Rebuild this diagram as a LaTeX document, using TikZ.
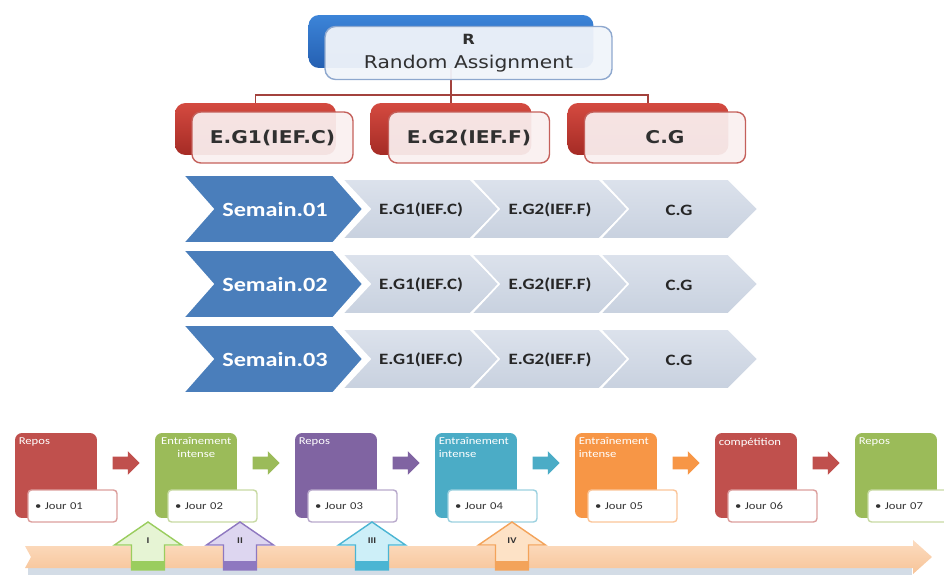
\documentclass[tikz,border=0pt]{standalone}
\usepackage{fontspec}
\setmainfont{Carlito}[FakeStretch=1.2]
\newfontfamily\verd{DejaVu Sans}[FakeStretch=1.15]
\usetikzlibrary{positioning,calc,shapes.arrows}

\definecolor{blueTop}{HTML}{3C84D8}
\definecolor{blueBot}{HTML}{2560B2}
\definecolor{rpale}{HTML}{F0F4FA}
\definecolor{rline}{HTML}{8EA8CE}
\definecolor{redTop}{HTML}{D44A40}
\definecolor{redBot}{HTML}{A52B25}
\definecolor{gpale}{HTML}{FAF0F0}
\definecolor{gline}{HTML}{C4605B}
\definecolor{treecol}{HTML}{A3423D}
\definecolor{treetext}{HTML}{303030}
\definecolor{semblue}{HTML}{4A7EBB}
\definecolor{greyTop}{HTML}{DCE2EC}
\definecolor{greyBot}{HTML}{C8D1DF}
\definecolor{offred}{HTML}{C0504D}
\definecolor{offgreen}{HTML}{9BBB59}
\definecolor{offpurple}{HTML}{8064A2}
\definecolor{offteal}{HTML}{4BACC6}
\definecolor{offorange}{HTML}{F79646}
\definecolor{barTop}{HTML}{FCDCC0}
\definecolor{barBot}{HTML}{F7C498}
\definecolor{barshadow}{HTML}{D3DCE6}
\definecolor{upgF}{HTML}{E6F4D4}
\definecolor{upgD}{HTML}{9ACD5E}
\definecolor{uppF}{HTML}{DDD6F0}
\definecolor{uppD}{HTML}{8E78C0}
\definecolor{upcF}{HTML}{CDEFF8}
\definecolor{upcD}{HTML}{4BB5D3}
\definecolor{upoF}{HTML}{FDE2C6}
\definecolor{upoD}{HTML}{F3A35A}

\tikzset{
  rback/.style={rounded corners=6pt, top color=blueTop, bottom color=blueBot,
    minimum width=5.7cm, minimum height=1.06cm, inner sep=0pt},
  rfront/.style={rounded corners=6pt, draw=rline, line width=0.8pt, fill=rpale,
    fill opacity=0.95, text opacity=1, minimum width=5.74cm, minimum height=1.06cm,
    align=center, font=\verd\fontsize{10}{11.5}\selectfont, text=treetext},
  gback/.style={rounded corners=6pt, top color=redTop, bottom color=redBot,
    minimum width=3.22cm, minimum height=1.04cm, inner sep=0pt},
  gfront/.style={rounded corners=5pt, draw=gline, line width=0.8pt, fill=gpale,
    fill opacity=0.93, text opacity=1, minimum width=3.22cm, minimum height=1.02cm,
    font=\verd\bfseries\fontsize{10}{12}\selectfont, text=treetext},
  treeline/.style={draw=treecol, line width=0.9pt},
  chevblue/.style={fill=semblue, draw=white, line width=1pt},
  chevgrey/.style={top color=greyTop, bottom color=greyBot, draw=white, line width=1pt},
  semtext/.style={text=white, font=\bfseries\fontsize{11.5}{13}\selectfont},
  grptext/.style={text=black!85, font=\bfseries\fontsize{9}{11}\selectfont},
  daybox/.style={rounded corners=4pt, minimum width=1.64cm, minimum height=1.7cm, inner sep=0pt},
  daytitle/.style={text=white, font=\fontsize{6}{7}\selectfont, text width=1.5cm, inner sep=1pt},
  daylabel/.style={fill=white, line width=0.8pt, rounded corners=2pt, minimum width=1.78cm,
    minimum height=0.64cm, text width=1.5cm, inner xsep=0.14cm, inner ysep=0pt,
    align=left, font=\fontsize{6}{7}\selectfont, text=black!80},
  dayarrow/.style={single arrow, minimum height=0.54cm, minimum width=0.46cm,
    single arrow head extend=0.11cm, inner sep=0.12cm},
  uplabel/.style={font=\bfseries\fontsize{5}{6}\selectfont, text=black!80, inner sep=0pt},
  barfill/.style={top color=barTop, bottom color=barBot}
}

\begin{document}
\begin{tikzpicture}[x=0.02cm, y=-0.02cm]
\useasboundingbox (0,0) rectangle (944,578);

% Random assignment and the three groups
\node[rback] (Rback) at (451,41.5) {};
\coordinate (bus) at (451,95);
\draw[treeline] (Rback.south) -- (bus);
\foreach \g/\x in {g1b/255.5, g2b/451, g3b/648} {
  \node[gback] (\g) at (\x,129) {};
  \draw[treeline] (bus) -| (\g.north);
}
\node[rfront] (R) at (468.5,53) {{\bfseries\fontsize{8}{9}\selectfont R}\\[2pt]Random Assignment};
\foreach \g/\x/\t in {g1/272.5/E.G1(IEF.C), g2/469/E.G2(IEF.F), g3/665/C.G}
  \node[gfront] (\g) at (\x,137.5) {\t};

% Weeks (chevron rows)
\foreach \r/\yc in {1/209, 2/284, 3/359} {
  \foreach \k/\t in {0/E.G1(IEF.C), 1/E.G2(IEF.F), 2/C.G} {
    \pgfmathsetmacro\L{342+129*\k}
    \draw[chevgrey] (\L,\yc-30) -- ++(128,0) -- ++(30,30) -- ++(-30,30) -- ++(-128,0) -- ++(28,-30) -- cycle;
    \node[grptext] (c\r\k) at (\L+79,\yc+1) {\t};
  }
  \draw[chevblue] (183,\yc-34) -- (333,\yc-34) -- (363,\yc) -- (333,\yc+34) -- (183,\yc+34) -- (213,\yc) -- cycle;
  \node[semtext] (s\r) at (275,\yc) {Semain.0\r};
}

% Time line bar
\fill[barshadow] (28,567) rectangle (912,575);
\shade[barfill] (25,546) -- (913,546) -- (913,540) -- (932,557) -- (913,574) -- (913,568) -- (25,568) -- (31,557) -- cycle;

% Days
\foreach \i/\c/\a/\t in {0/offred/left/Repos, 1/offgreen/center/Entraînement\\intense,
    2/offpurple/left/Repos, 3/offteal/left/Entraînement\\intense,
    4/offorange/left/Entraînement\\intense, 5/offred/left/compétition, 6/offgreen/left/Repos} {
  \pgfmathsetmacro\L{15+140*\i}
  \pgfmathtruncatemacro\n{\i+1}
  \node[daybox, fill=\c] (b\i) at (\L+41,475.5) {};
  \node[daytitle, align=\a, anchor=north west] (t\i) at ($(b\i.north west)+(2,3)$) {\t};
  \node[daylabel, draw=\c!55] (j\i) at (\L+57.5,506) {• Jour 0\n};
}
\foreach \i/\c in {0/offred, 1/offgreen, 2/offpurple, 3/offteal, 4/offorange, 5/offred} {
  \pgfmathsetmacro\L{15+140*\i}
  \node[dayarrow, fill=\c] (a\i) at (\L+108,463) {};
}

% Up arrows
\foreach \cx/\n/\fc/\dc in {148/I/upgF/upgD, 240/II/uppF/uppD, 372/III/upcF/upcD, 512/IV/upoF/upoD} {
  \filldraw[fill=\fc, draw=\dc, line width=0.8pt] (\cx-16.5,570) -- (\cx-16.5,545) -- (\cx-33.5,545)
    -- (\cx,522) -- (\cx+33.5,545) -- (\cx+16.5,545) -- (\cx+16.5,570) -- cycle;
  \fill[\dc] (\cx-16.5,561) rectangle (\cx+16.5,570);
  \node[uplabel] (u\n) at (\cx,541) {\n};
}

\end{tikzpicture}
\end{document}
